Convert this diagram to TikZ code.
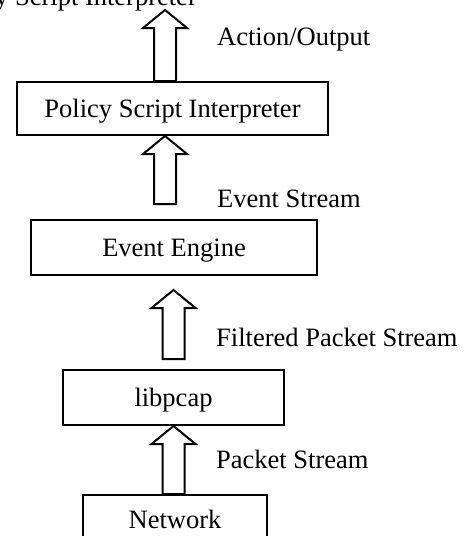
\documentclass[tikz,border=0pt]{standalone}
\usepackage{fontspec}
\setmainfont{Liberation Serif}
\usetikzlibrary{calc}
\tikzset{
  txt/.style={font=\fontsize{26.5}{31}\selectfont},
  box/.style={txt, draw, line width=2pt, inner sep=0pt, text height=17.5pt, text depth=0pt},
  lbl/.style={txt, inner sep=0pt, anchor=base west},
  blockarrow/.style={draw, line width=2pt, fill=white, line join=miter}
}
\newcommand\blockarr[2]{%
  \draw[blockarrow] ($(#1)+(-11,0)$) -- ($(#2)+(-11,18)$) -- ($(#2)+(-22,18)$) -- (#2)
    -- ($(#2)+(22,18)$) -- ($(#2)+(11,18)$) -- ($(#1)+(11,0)$) -- cycle;}
\begin{document}
\begin{tikzpicture}[x=1pt,y=-1pt]
  \useasboundingbox (0,0) rectangle (470,536);
  \clip (0,0) rectangle (470,536);
  % boxes
  \node[box, minimum width=311pt, minimum height=53pt] (psi) at (172.5,108.5) {Policy Script Interpreter};
  \node[box, minimum width=286pt, minimum height=55pt] (ee) at (174,247.5) {Event Engine};
  \node[box, minimum width=221pt, minimum height=55pt] (lib) at (173.5,397.5) {libpcap};
  \node[box, minimum width=184pt, minimum height=50pt] (net) at (175,520) {Network};
  % top (cut-off) text
  \node[txt, inner sep=0pt, anchor=base east] (top) at (197,5) {Policy Script Interpreter};
  % arrow end points
  \coordinate (a1b) at ([xshift=-7.5pt]psi.north);
  \coordinate (a1t) at (165,10);
  \coordinate (a2b) at ([xshift=-9pt,yshift=15pt]ee.north);
  \coordinate (a2t) at ([xshift=-7.5pt]psi.south);
  \coordinate (a3b) at ([yshift=10pt]lib.north);
  \coordinate (a3t) at ([xshift=-0.5pt,yshift=-14pt]ee.south);
  \coordinate (a4b) at ([xshift=-1.5pt]net.north);
  \coordinate (a4t) at (lib.south);
  \blockarr{a1b}{a1t}
  \blockarr{a2b}{a2t}
  \blockarr{a3b}{a3t}
  \blockarr{a4b}{a4t}
  % labels
  \node[lbl] (l1) at (217,45) {Action/Output};
  \node[lbl] (l2) at (217,207) {Event Stream};
  \node[lbl] (l3) at (216,346) {Filtered Packet Stream};
  \node[lbl] (l4) at (216,468) {Packet Stream};
\end{tikzpicture}
\end{document}
